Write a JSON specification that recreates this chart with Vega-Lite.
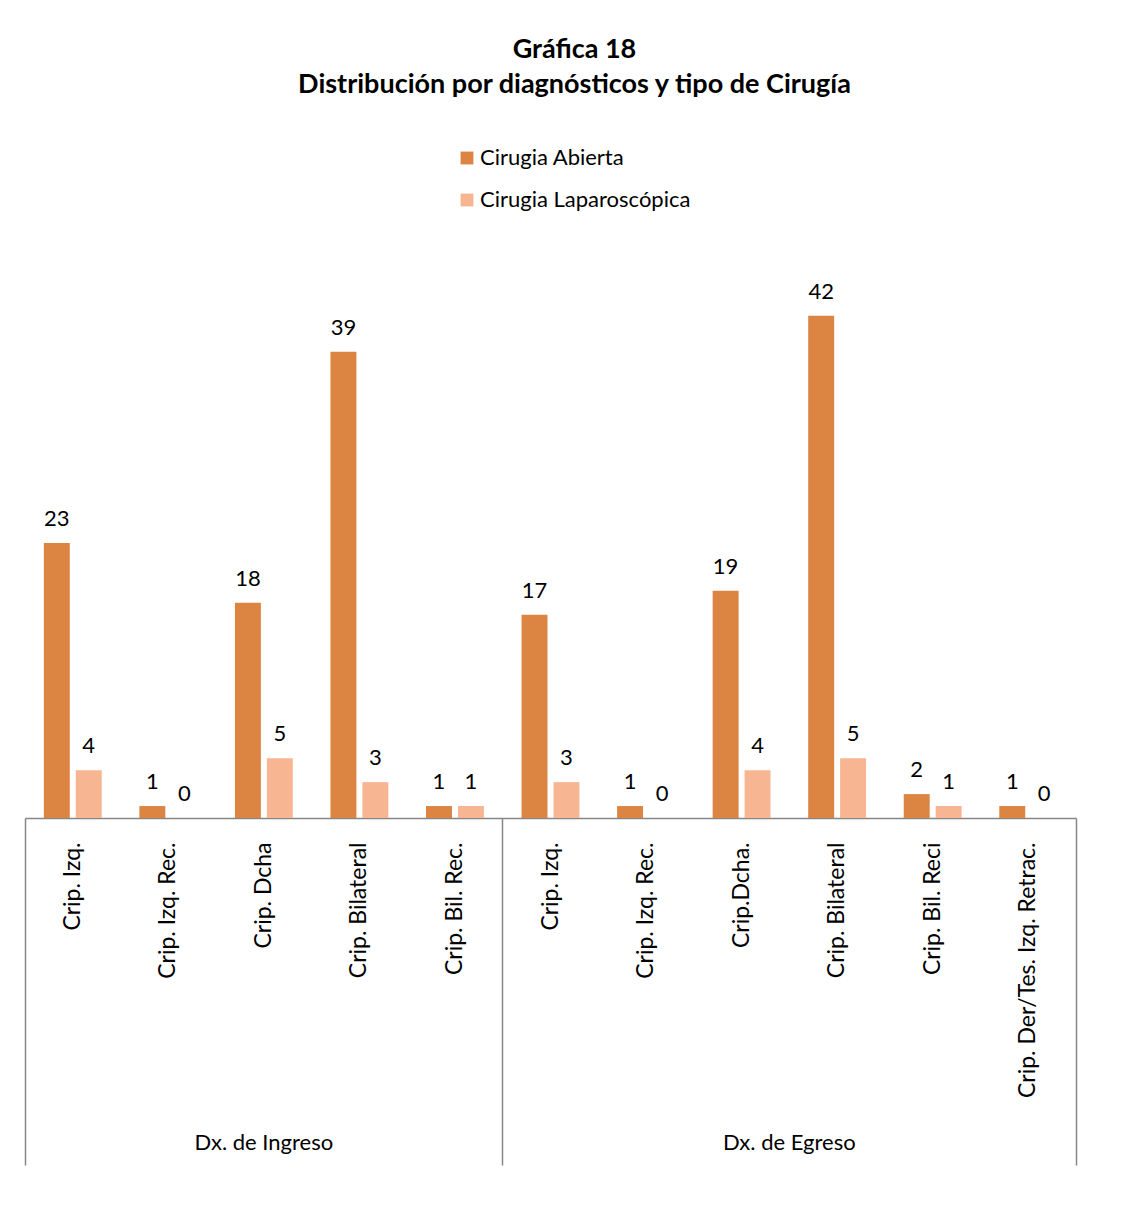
{
  "$schema": "https://vega.github.io/schema/vega-lite/v6.json",
  "autosize": "none",
  "width": 1051,
  "height": 538,
  "padding": {"left": 25, "top": 280, "right": 56, "bottom": 414},
  "background": "#ffffff",
  "config": {"font": "Lato", "view": {"stroke": null}},
  "title": {
    "text": ["Gráfica 18", "Distribución por diagnósticos  y tipo de Cirugía"],
    "font": "Lato",
    "fontSize": 27,
    "fontWeight": "bold",
    "color": "#000000",
    "lineHeight": 35,
    "anchor": "middle",
    "frame": "group",
    "dx": 24,
    "offset": 48
  },
  "data": {
    "values": [
      {"cat": "Ingreso|Crip. Izq.", "tipo": "Cirugia Abierta", "valor": 23},
      {"cat": "Ingreso|Crip. Izq.", "tipo": "Cirugia Laparoscópica", "valor": 4},
      {"cat": "Ingreso|Crip. Izq. Rec.", "tipo": "Cirugia Abierta", "valor": 1},
      {"cat": "Ingreso|Crip. Izq. Rec.", "tipo": "Cirugia Laparoscópica", "valor": 0},
      {"cat": "Ingreso|Crip. Dcha", "tipo": "Cirugia Abierta", "valor": 18},
      {"cat": "Ingreso|Crip. Dcha", "tipo": "Cirugia Laparoscópica", "valor": 5},
      {"cat": "Ingreso|Crip. Bilateral", "tipo": "Cirugia Abierta", "valor": 39},
      {"cat": "Ingreso|Crip. Bilateral", "tipo": "Cirugia Laparoscópica", "valor": 3},
      {"cat": "Ingreso|Crip. Bil. Rec.", "tipo": "Cirugia Abierta", "valor": 1},
      {"cat": "Ingreso|Crip. Bil. Rec.", "tipo": "Cirugia Laparoscópica", "valor": 1},
      {"cat": "Egreso|Crip. Izq.", "tipo": "Cirugia Abierta", "valor": 17},
      {"cat": "Egreso|Crip. Izq.", "tipo": "Cirugia Laparoscópica", "valor": 3},
      {"cat": "Egreso|Crip. Izq. Rec.", "tipo": "Cirugia Abierta", "valor": 1},
      {"cat": "Egreso|Crip. Izq. Rec.", "tipo": "Cirugia Laparoscópica", "valor": 0},
      {"cat": "Egreso|Crip.Dcha.", "tipo": "Cirugia Abierta", "valor": 19},
      {"cat": "Egreso|Crip.Dcha.", "tipo": "Cirugia Laparoscópica", "valor": 4},
      {"cat": "Egreso|Crip. Bilateral", "tipo": "Cirugia Abierta", "valor": 42},
      {"cat": "Egreso|Crip. Bilateral", "tipo": "Cirugia Laparoscópica", "valor": 5},
      {"cat": "Egreso|Crip. Bil. Reci", "tipo": "Cirugia Abierta", "valor": 2},
      {"cat": "Egreso|Crip. Bil. Reci", "tipo": "Cirugia Laparoscópica", "valor": 1},
      {"cat": "Egreso|Crip. Der/Tes. Izq. Retrac.", "tipo": "Cirugia Abierta", "valor": 1},
      {"cat": "Egreso|Crip. Der/Tes. Izq. Retrac.", "tipo": "Cirugia Laparoscópica", "valor": 0}
    ]
  },
  "encoding": {
    "xOffset": {
      "field": "tipo",
      "type": "nominal",
      "sort": ["Cirugia Abierta", "Cirugia Laparoscópica"],
      "scale": {"paddingInner": 0.1875, "paddingOuter": 0.59}
    },
    "y": {
      "field": "valor",
      "type": "quantitative",
      "scale": {"domain": [0, 45], "nice": false},
      "axis": null
    }
  },
  "layer": [
    {
      "mark": {"type": "bar"},
      "encoding": {
        "x": {
          "field": "cat",
          "type": "nominal",
          "sort": null,
          "scale": {"paddingInner": 0, "paddingOuter": 0},
          "axis": {
            "orient": "bottom",
            "title": null,
            "labelAngle": -90,
            "labelExpr": "split(datum.value, '|')[1]",
            "ticks": false,
            "tickSize": 0,
            "domainColor": "#868686",
            "domainWidth": 1.5,
            "labelPadding": 24,
            "labelFont": "Lato",
            "labelFontSize": 23,
            "labelColor": "#000000",
            "labelLimit": 400,
            "grid": false
          }
        },
        "color": {
          "field": "tipo",
          "type": "nominal",
          "scale": {
            "domain": ["Cirugia Abierta", "Cirugia Laparoscópica"],
            "range": ["#DC8441", "#F8B592"]
          },
          "legend": {
            "orient": "none",
            "legendX": 431,
            "legendY": -133,
            "direction": "vertical",
            "title": null,
            "symbolType": "square",
            "symbolSize": 165,
            "symbolStrokeWidth": 0,
            "labelFont": "Lato",
            "labelFontSize": 22,
            "labelColor": "#000000",
            "rowPadding": 20,
            "labelOffset": 2,
            "labelLimit": 400
          }
        }
      }
    },
    {
      "mark": {"type": "text", "align": "center", "baseline": "alphabetic", "dy": -17, "fontSize": 22, "color": "#000000", "font": "Lato"},
      "encoding": {
        "x": {
          "field": "cat",
          "type": "nominal",
          "sort": null,
          "axis": {
            "orient": "bottom",
            "title": null,
            "domain": false,
            "grid": false,
            "bandPosition": 1,
            "tickExtra": true,
            "ticks": true,
            "tickSize": 347,
            "tickColor": "#868686",
            "tickWidth": 1.5,
            "tickOpacity": {
              "condition": {"test": "datum.value === 'Ingreso|Crip. Bil. Rec.' || datum.value === 'Egreso|Crip. Der/Tes. Izq. Retrac.' || !datum.value", "value": 1},
              "value": 0
            },
            "labelExpr": "datum.value === 'Ingreso|Crip. Dcha' ? 'Dx. de Ingreso' : (datum.value === 'Egreso|Crip.Dcha.' ? 'Dx. de Egreso' : '')",
            "labelAngle": 0,
            "labelAlign": "center",
            "labelBaseline": "middle",
            "labelPadding": -23,
            "labelOffset": {
              "condition": {"test": "datum.value === 'Egreso|Crip.Dcha.'", "value": 47.75},
              "value": 0
            },
            "labelFont": "Lato",
            "labelFontSize": 22,
            "labelColor": "#000000",
            "labelLimit": 400
          }
        },
        "text": {"field": "valor", "type": "quantitative"}
      }
    }
  ],
  "resolve": {"axis": {"x": "independent"}}
}
